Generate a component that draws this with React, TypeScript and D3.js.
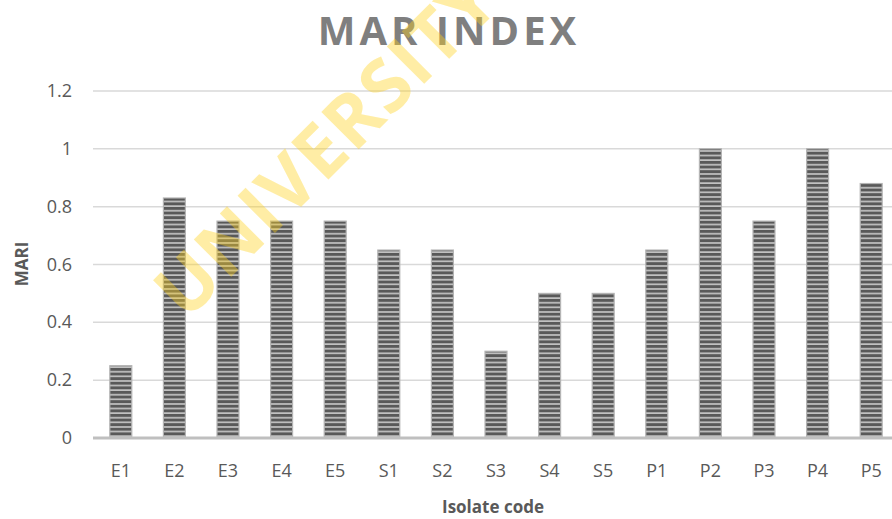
import React from "react";
import * as d3 from "d3";

const categories = ["E1", "E2", "E3", "E4", "E5", "S1", "S2", "S3", "S4", "S5", "P1", "P2", "P3", "P4", "P5"];
const mariValues = [0.25, 0.83, 0.75, 0.75, 0.75, 0.65, 0.65, 0.3, 0.5, 0.5, 0.65, 1.0, 0.75, 1.0, 0.88];
const yTicks = [0, 0.2, 0.4, 0.6, 0.8, 1, 1.2];
const titleText = "MAR INDEX";
const xAxisTitle = "Isolate code";
const yAxisTitle = "MARI";
const watermarkText = "UNIVERSITY OF IBADAN LIBRARY";

const W = 892;
const H = 519;

export default function App() {
  const x = d3.scaleBand<string>().domain(categories).range([94, 898]).paddingInner(0.59).paddingOuter(0.295);
  const y = d3.scaleLinear().domain([0, 1.2]).range([438, 91]);
  const font = "'Open Sans', 'Liberation Sans', sans-serif";

  return (
    <svg width={W} height={H} style={{ position: "absolute", left: 0, top: 0, background: "#fff" }}>
      <defs>
        <pattern id="stripes" patternUnits="userSpaceOnUse" width={8} height={4.6}>
          <rect x={0} y={0} width={8} height={4.6} fill="#c2c2c2" />
          <rect x={0} y={0} width={8} height={2.9} fill="#595959" />
        </pattern>
      </defs>
      {/* title */}
      <text x={449} y={45} textAnchor="middle" fontFamily={font} fontWeight="bold" fontSize={40} letterSpacing={4} fill="#7f7f7f">
        {titleText}
      </text>
      {/* gridlines */}
      {yTicks.filter((t) => t > 0).map((t) => (
        <line key={t} x1={93} x2={W} y1={y(t)} y2={y(t)} stroke="#d9d9d9" strokeWidth={1.5} />
      ))}
      {/* bars */}
      {categories.map((c, i) => (
        <rect
          key={c}
          x={x(c)}
          y={y(mariValues[i])}
          width={x.bandwidth()}
          height={y(0) - y(mariValues[i])}
          fill="url(#stripes)"
          stroke="#b4b4b4"
          strokeWidth={1.2}
        />
      ))}
      {/* baseline */}
      <line x1={93} x2={W} y1={y(0)} y2={y(0)} stroke="#bfbfbf" strokeWidth={3} />
      {/* y tick labels */}
      {yTicks.map((t) => (
        <text key={t} x={72} y={y(t) + 6} textAnchor="end" fontFamily={font} fontSize={18} fill="#595959">
          {d3.format("~g")(t)}
        </text>
      ))}
      {/* x tick labels */}
      {categories.map((c) => (
        <text key={c} x={(x(c) as number) + x.bandwidth() / 2} y={477} textAnchor="middle" fontFamily={font} fontSize={18} fill="#595959">
          {c}
        </text>
      ))}
      {/* axis titles */}
      <text x={493} y={513} textAnchor="middle" fontFamily={font} fontWeight="bold" fontSize={17} fill="#595959">
        {xAxisTitle}
      </text>
      <text transform="translate(28,264) rotate(-90)" textAnchor="middle" fontFamily={font} fontWeight="bold" fontSize={17} fill="#595959">
        {yAxisTitle}
      </text>
      {/* watermark */}
      <text
        transform="translate(186,322) rotate(-45)"
        fontFamily={font}
        fontWeight="bold"
        fontSize={74}
        letterSpacing={1.5}
        fill="#ffd21f"
        fillOpacity={0.4}
      >
        {watermarkText}
      </text>
    </svg>
  );
}
